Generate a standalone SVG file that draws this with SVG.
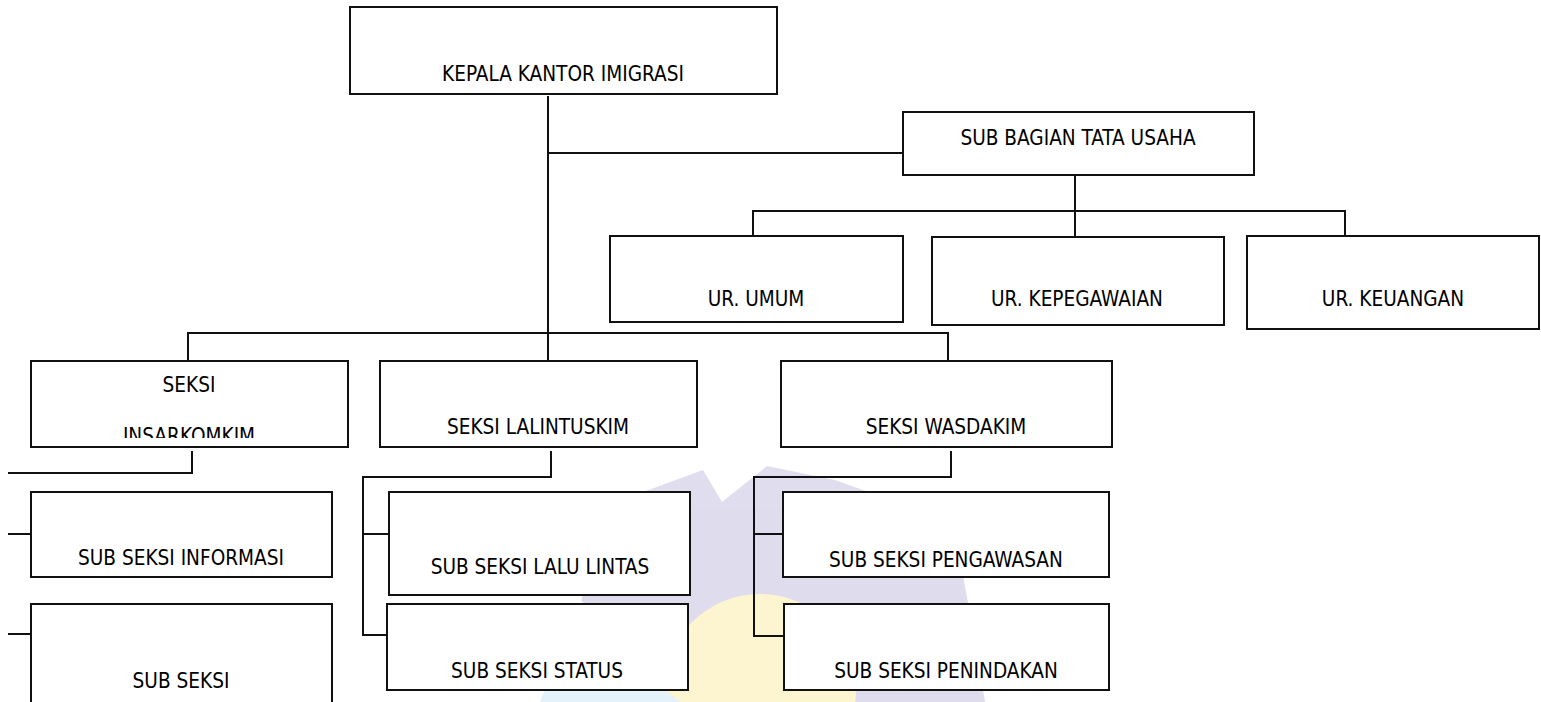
<svg xmlns="http://www.w3.org/2000/svg" width="1541" height="702" viewBox="0 0 1541 702">
<style>
.box{fill:#fff;stroke:#111;stroke-width:2}
.ln{fill:none;stroke:#111;stroke-width:2}
.t{font-family:'DejaVu Sans Condensed','DejaVu Sans',sans-serif;font-stretch:condensed;font-size:20.6px;fill:#000;text-anchor:middle}
</style>
<defs>
<clipPath id="clipIns"><rect x="31" y="361" width="317" height="77"/></clipPath>
</defs>
<rect width="1541" height="702" fill="#fff"/>
<g id="watermark" opacity="0.9">
<path d="M643 492 L703 470 L722 502 L767 466 L835 480 L905 505 L960 560 L975 640 L985 702 L560 702 L590 560 Z" fill="#dcd9ec"/>
<circle cx="760" cy="690" r="96" fill="#fdf4cc"/>
<path d="M540 702 L545 690 L665 690 L680 702 Z" fill="#e2f1fb"/>
<g stroke="#fff" stroke-width="5" fill="none">
<path d="M560 590 L665 660"/><path d="M560 612 L650 672"/><path d="M560 634 L640 688"/>
</g>
</g>
<g id="connectors">
<path class="ln" d="M548 96 V360"/>
<path class="ln" d="M548 153 H903"/>
<path class="ln" d="M1075 176 V237"/>
<path class="ln" d="M753 236 V211 H1345 V236"/>
<path class="ln" d="M188 361 V333 H948 V361"/>
<path class="ln" d="M192 451 V473 H8"/>
<path class="ln" d="M8 534 H31"/>
<path class="ln" d="M8 634 H31"/>
<path class="ln" d="M551 451 V477 H363 V635 H388"/>
<path class="ln" d="M363 534 H389"/>
<path class="ln" d="M951 451 V477 H754 V636 H784"/>
<path class="ln" d="M754 534 H783"/>
</g>
<g id="kepala"><rect class="box" x="350" y="7" width="427" height="87"/><text class="t" x="563" y="81">KEPALA KANTOR IMIGRASI</text></g>
<g id="subbagian"><rect class="box" x="903" y="112" width="351" height="63"/><text class="t" x="1078" y="145">SUB BAGIAN TATA USAHA</text></g>
<g id="urumum"><rect class="box" x="610" y="236" width="293" height="86"/><text class="t" x="756" y="306">UR. UMUM</text></g>
<g id="urkepegawaian"><rect class="box" x="932" y="237" width="292" height="88"/><text class="t" x="1077" y="306">UR. KEPEGAWAIAN</text></g>
<g id="urkeuangan"><rect class="box" x="1247" y="236" width="292" height="93"/><text class="t" x="1393" y="306">UR. KEUANGAN</text></g>
<g id="seksiinsarkomkim"><rect class="box" x="31" y="361" width="317" height="86"/><text class="t" x="189" y="392">SEKSI</text><text class="t" x="189" y="443" clip-path="url(#clipIns)">INSARKOMKIM</text></g>
<g id="seksilalintuskim"><rect class="box" x="380" y="361" width="317" height="86"/><text class="t" x="538" y="434">SEKSI LALINTUSKIM</text></g>
<g id="seksiwasdakim"><rect class="box" x="781" y="361" width="331" height="86"/><text class="t" x="946" y="434">SEKSI WASDAKIM</text></g>
<g id="subinformasi"><rect class="box" x="31" y="492" width="301" height="85"/><text class="t" x="181" y="565">SUB SEKSI INFORMASI</text></g>
<g id="subseksi"><rect class="box" x="31" y="604" width="301" height="110"/><text class="t" x="181" y="688">SUB SEKSI</text></g>
<g id="sublalulintas"><rect class="box" x="389" y="492" width="301" height="103"/><text class="t" x="540" y="574">SUB SEKSI LALU LINTAS</text></g>
<g id="substatus"><rect class="box" x="387" y="604" width="301" height="86"/><text class="t" x="537" y="678">SUB SEKSI STATUS</text></g>
<g id="subpengawasan"><rect class="box" x="783" y="492" width="326" height="85"/><text class="t" x="946" y="567">SUB SEKSI PENGAWASAN</text></g>
<g id="subpenindakan"><rect class="box" x="784" y="604" width="325" height="86"/><text class="t" x="946" y="678">SUB SEKSI PENINDAKAN</text></g>
</svg>
